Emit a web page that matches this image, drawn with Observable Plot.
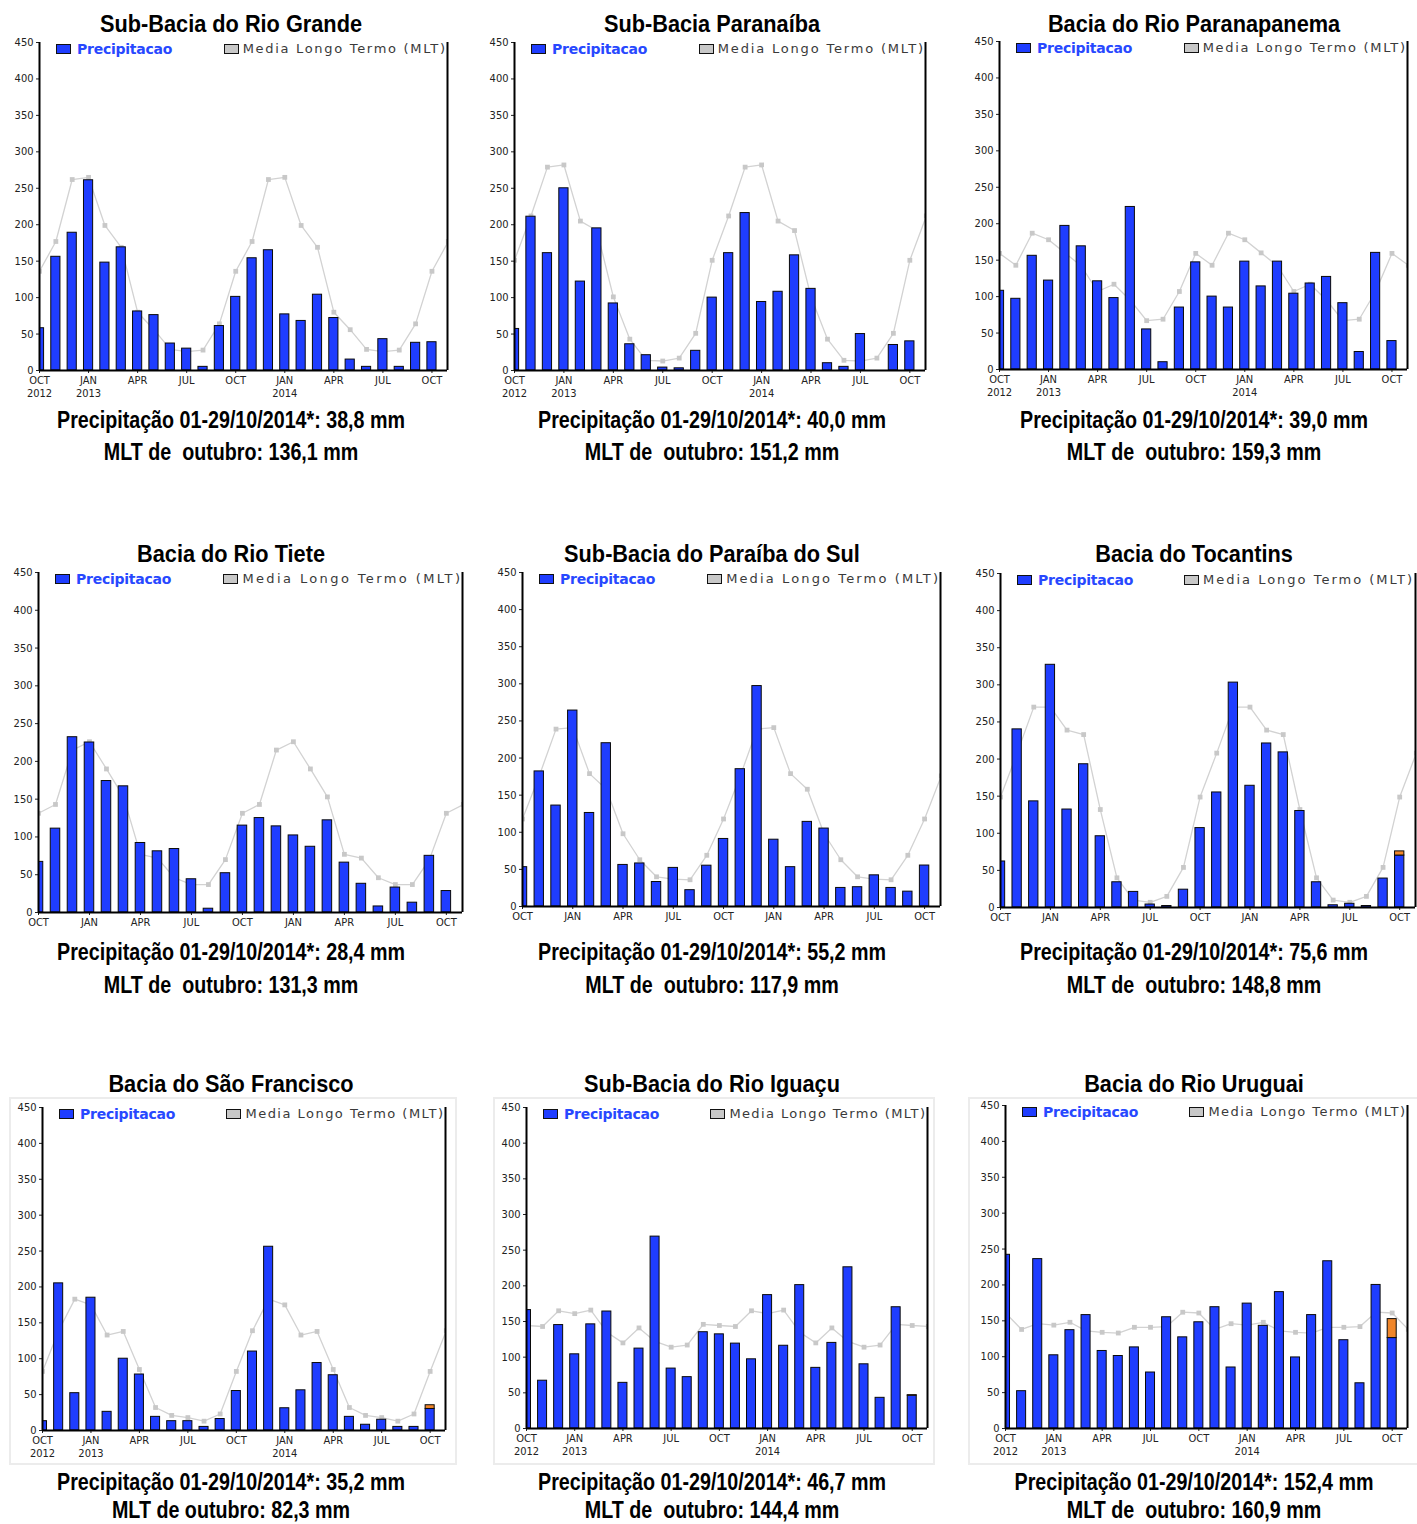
<!DOCTYPE html>
<html><head><meta charset="utf-8">
<script src="https://cdn.jsdelivr.net/npm/d3@7"></script>
<script src="https://cdn.jsdelivr.net/npm/@observablehq/plot@0.6"></script>
<style>
html,body{margin:0;padding:0;background:#fff;}
#root{position:relative;width:1417px;height:1524px;overflow:hidden;font-family:"Liberation Sans",Arial,sans-serif;}
.txt{position:absolute;white-space:pre;font-weight:bold;color:#000;font-size:24px;line-height:1;transform-origin:50% 50%;}
.plot{position:absolute;}
.sw{position:absolute;width:13px;height:8px;border:1px solid #111;}
.lg{position:absolute;white-space:pre;line-height:1;}
.frame{position:absolute;border:2px solid #ececec;}
</style>
</head><body><div id="root"></div>
<script>
// ---------- DATA ----------
const meses = ["OCT 2012","NOV 2012","DEC 2012","JAN 2013","FEB 2013","MAR 2013","APR 2013","MAY 2013","JUN 2013","JUL 2013","AUG 2013","SEP 2013","OCT 2013","NOV 2013","DEC 2013","JAN 2014","FEB 2014","MAR 2014","APR 2014","MAY 2014","JUN 2014","JUL 2014","AUG 2014","SEP 2014","OCT 2014","NOV 2014"];
const mesesMLT = ["OCT","NOV","DEC","JAN","FEB","MAR","APR","MAY","JUN","JUL","AUG","SEP"];
const marcasX = ["OCT 2012","JAN 2013","APR 2013","JUL 2013","OCT 2013","JAN 2014","APR 2014","JUL 2014","OCT 2014"];
const rotulosX = ["OCT\n2012","JAN\n2013","APR","JUL","OCT","JAN\n2014","APR","JUL","OCT"];
const valoresY = [0,50,100,150,200,250,300,350,400,450];

const precipRioGrande    = [58,156,189,261,148,169,81,76,37,30,5,61,101,154,165,77,68,104,72,15,5,43,5,38,38.8];
const mltRioGrande       = [136.1,177,262,265,199,169,80,56,29,26,28,64];
const precipParanaiba    = [57,211,161,250,122,195,92,36,21,4,3,27,100,161,216,94,108,158,112,10,5,50,0,35,40.0];
const mltParanaiba       = [151.2,212,279,282,205,192,101,43,14,13,17,51];
const precipParanapanema = [108,97,156,122,197,169,121,98,223,55,10,85,147,100,85,148,114,148,104,118,127,91,24,160,39.0];
const mltParanapanema    = [159.3,143,187,178,160,142,107,117,95,67,69,107];
const precipTiete        = [67,111,232,225,174,167,92,81,84,44,5,52,115,125,114,102,87,122,66,38,8,33,13,75,28.4];
const mltTiete           = [131.3,143,215,226,190,153,77,72,46,37,37,70];
const precipParaibaSul   = [53,182,136,264,126,220,56,58,33,52,22,55,91,185,297,90,53,114,105,25,26,42,25,20,55.2];
const mltParaibaSul      = [117.9,176,239,241,179,158,98,63,40,37,36,69];
const precipTocantins    = [62,240,143,327,132,193,96,34,21,4,2,24,107,155,303,164,221,209,130,34,3,5,2,39,70];
const mltTocantins       = [148.8,208,270,270,239,233,132,40,10,7,15,54];
const precipSaoFrancisco = [13,205,52,185,26,100,78,19,13,13,5,16,55,110,256,31,56,94,77,19,8,15,5,5,30];
const mltSaoFrancisco    = [82.3,139,183,175,133,138,85,32,21,18,13,23];
const precipIguacu       = [166,67,145,104,146,164,64,112,269,84,72,135,132,119,97,187,116,201,85,120,226,90,43,170,46];
const mltIguacu          = [144.4,143,165,161,166,135,120,141,122,114,117,146];
const precipUruguai      = [242,52,236,102,137,158,108,101,113,78,155,127,148,169,85,174,143,190,99,158,233,123,63,200,126];
const mltUruguai         = [160.9,138,146,144,148,136,134,133,141,141,142,162];

// total accumulated 01-29/10/2014 (caption values)
const totaisOut2014 = [38.8, 40.0, 39.0, 28.4, 55.2, 75.6, 35.2, 46.7, 152.4];
const mltOutubro    = ["136,1","151,2","159,3","131,3","117,9","148,8","82,3","144,4","160,9"];
const totaisTexto   = ["38,8","40,0","39,0","28,4","55,2","75,6","35,2","46,7","152,4"];
const titulos = ["Sub-Bacia do Rio Grande","Sub-Bacia Paranaíba","Bacia do Rio Paranapanema","Bacia do Rio Tiete","Sub-Bacia do Paraíba do Sul","Bacia do Tocantins","Bacia do São Francisco","Sub-Bacia do Rio Iguaçu","Bacia do Rio Uruguai"];
const seriesPrecip = [precipRioGrande,precipParanaiba,precipParanapanema,precipTiete,precipParaibaSul,precipTocantins,precipSaoFrancisco,precipIguacu,precipUruguai];
const seriesMLT = [mltRioGrande,mltParanaiba,mltParanapanema,mltTiete,mltParaibaSul,mltTocantins,mltSaoFrancisco,mltIguacu,mltUruguai];

// ---------- LAYOUT ----------
const caixas = [
  {L:39,R:447,T:42,B:370, anos:true},
  {L:514,R:925,T:42,B:370, anos:true},
  {L:999,R:1407,T:41,B:369, anos:true},
  {L:38,R:462,T:572,B:912, anos:false},
  {L:522,R:940,T:572,B:906, anos:false},
  {L:1000,R:1415,T:573,B:907, anos:false},
  {L:42,R:445,T:1107,B:1430, anos:true},
  {L:526,R:927,T:1107,B:1428, anos:true},
  {L:1005,R:1407,T:1105,B:1428, anos:true}
];
const centrosX = [231,712,1194];
const linhasY = [{t:24,c1:420,c2:452},{t:554,c1:952,c2:985},{t:1084,c1:1482,c2:1510}];
const molduras = [{x:9,y:1097,w:444,h:364},{x:493,y:1097,w:438,h:364},{x:968,y:1097,w:452,h:364}];

const root = document.getElementById("root");
const AZUL = "#1f3dff";
const fonteEixo = '"Liberation Sans Narrow","DejaVu Sans Condensed","Liberation Sans",sans-serif';

// text condense factor (narrow bold look)
const cv = document.createElement("canvas").getContext("2d");
cv.font = 'bold 24px "Liberation Sans"';
const kCap = 348 / cv.measureText("Precipitação 01-29/10/2014*: 38,8 mm").width;
const kTit = 262 / cv.measureText("Sub-Bacia do Rio Grande").width;

function texto(str, cx, cy, k, size) {
  const d = document.createElement("div");
  d.className = "txt";
  d.textContent = str;
  d.style.left = cx + "px";
  d.style.top = cy + "px";
  d.style.fontSize = size + "px";
  d.style.transform = `translate(-50%,-50%) scaleX(${k})`;
  root.appendChild(d);
}

molduras.forEach(m => {
  const f = document.createElement("div");
  f.className = "frame";
  Object.assign(f.style, {left:m.x+"px", top:m.y+"px", width:m.w+"px", height:m.h+"px"});
  root.appendChild(f);
});

const xmax = 24.95;
const meia = 0.28;

seriesPrecip.forEach((precip, p) => {
  const {L,R,T,B,anos} = caixas[p];
  const ml = 34, mr = 4, mt = 8, mb = 34;
  const barras = precip.map((v, i) => ({mes: meses[i], i, v}));
  const ultimo = barras[barras.length - 1];
  const extra = totaisOut2014[p] > ultimo.v + 0.05 ? [{i: ultimo.i, v0: ultimo.v, v1: totaisOut2014[p]}] : [];
  const mlt = seriesMLT[p];
  const serieMLT = meses.map((m, i) => ({i, v: mlt[mesesMLT.indexOf(m.slice(0,3))]}));
  const ticksX = marcasX.map(m => meses.indexOf(m));
  const chart = Plot.plot({
    width: R - L + ml + mr,
    height: B - T + mt + mb,
    marginLeft: ml, marginRight: mr, marginTop: mt, marginBottom: mb,
    x: {type: "linear", domain: [0, xmax], axis: null},
    y: {domain: [0, 450], axis: null},
    style: {background: "transparent", color: "#222", fontFamily: fonteEixo, overflow: "visible"},
    marks: [
      Plot.line(serieMLT, {x: "i", y: "v", stroke: "#d2d2d2", strokeWidth: 1.3, clip: true}),
      Plot.dot(serieMLT, {x: "i", y: "v", symbol: "square", r: 2.7, fill: "#c8c8c8", stroke: "none", clip: true}),
      Plot.rectY(barras, {x1: d => d.i - meia, x2: d => d.i + meia, y1: 0, y2: "v", fill: AZUL, stroke: "#0a0a0a", strokeWidth: 1, clip: true}),
      Plot.rectY(extra, {x1: d => d.i - meia, x2: d => d.i + meia, y1: "v0", y2: "v1", fill: "#f0862a", stroke: "#0a0a0a", strokeWidth: 1, clip: true}),
      Plot.axisY({ticks: valoresY, tickSize: 3, tickPadding: 3, fontSize: 11, label: null, tickFormat: d => String(d)}),
      Plot.axisX({ticks: ticksX, tickSize: 3, tickPadding: 2, fontSize: 11, lineHeight: 1.15, label: null,
        tickFormat: i => { const r = rotulosX[marcasX.indexOf(meses[i])]; return anos ? r : r.split("\n")[0]; }}),
      Plot.ruleX([0, xmax], {stroke: "#000", strokeWidth: 2}),
      Plot.ruleY([0], {stroke: "#000", strokeWidth: 2})
    ]
  });
  chart.classList.add("plot");
  chart.style.left = (L - ml) + "px";
  chart.style.top = (T - mt) + "px";
  root.appendChild(chart);

  // legend inside the plot area
  const sw1 = document.createElement("div");
  sw1.className = "sw";
  Object.assign(sw1.style, {left: (L + 17) + "px", top: (T + 2) + "px", background: AZUL});
  root.appendChild(sw1);
  const t1 = document.createElement("div");
  t1.className = "lg";
  t1.textContent = "Precipitacao";
  Object.assign(t1.style, {left: (L + 38) + "px", top: (T - 1) + "px", color: "#2748ff", font: '600 14px "DejaVu Sans", sans-serif'});
  root.appendChild(t1);
  const t2 = document.createElement("div");
  t2.className = "lg";
  t2.textContent = "Media Longo Termo (MLT)";
  Object.assign(t2.style, {top: (T - 1) + "px", color: "#3a3a3a", font: '13px "DejaVu Sans", sans-serif'});
  root.appendChild(t2);
  // fit text widths
  const w1 = t1.getBoundingClientRect().width;
  t1.style.letterSpacing = ((95 - w1) / 12) + "px";
  const w2 = t2.getBoundingClientRect().width;
  const alvo = R - L - 204;
  const ls = (alvo - w2) / 23;
  t2.style.letterSpacing = ls + "px";
  const w2b = t2.getBoundingClientRect().width;
  const x2 = Math.min(R - 2, 1412) - w2b + ls;
  t2.style.left = x2 + "px";
  const sw2 = document.createElement("div");
  sw2.className = "sw";
  Object.assign(sw2.style, {left: (x2 - 19) + "px", top: (T + 2) + "px", background: "#c8c8c8"});
  root.appendChild(sw2);

  const col = p % 3, row = Math.floor(p / 3);
  texto(titulos[p], centrosX[col], linhasY[row].t, kTit, 24);
  texto(`Precipitação 01-29/10/2014*: ${totaisTexto[p]} mm`, centrosX[col], linhasY[row].c1, kCap, 24);
  texto(p === 6 ? `MLT de outubro: ${mltOutubro[p]} mm` : `MLT de  outubro: ${mltOutubro[p]} mm`, centrosX[col], linhasY[row].c2, kCap, 24);
});
</script>
</body></html>
